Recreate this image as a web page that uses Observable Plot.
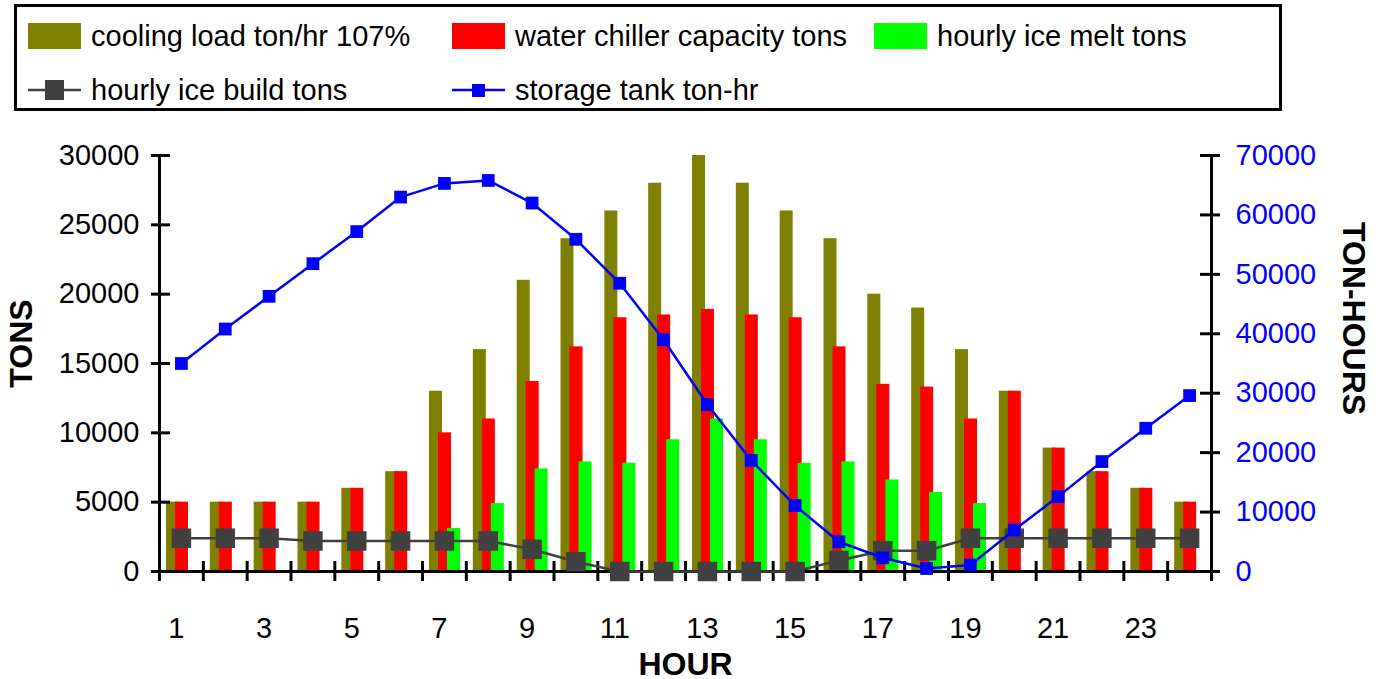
<!DOCTYPE html>
<html>
<head>
<meta charset="utf-8">
<script src="https://cdn.jsdelivr.net/npm/d3@7"></script>
<script src="https://cdn.jsdelivr.net/npm/@observablehq/plot@0.6"></script>
<style>
  body { margin: 0; background: #fff; font-family: "Liberation Sans", Arial, sans-serif; }
  #legend { position: relative; width: 1383px; height: 120px; }
  #legend .box { position: absolute; left: 14px; top: 4px; width: 1268px; height: 107px; box-sizing: border-box; border: 3px solid #000; }
  #legend .lbl { position: absolute; font-size: 29px; line-height: 30px; white-space: nowrap; color: #000; }
  #chart { position: absolute; left: 0; top: 120px; }
</style>
</head>
<body>
<div id="legend"><div class="box"></div></div>
<div id="chart"></div>
<script>
// ---- data ----
const hours = [1,2,3,4,5,6,7,8,9,10,11,12,13,14,15,16,17,18,19,20,21,22,23,24];
const coolingLoad = [5000,5000,5000,5000,6000,7200,13000,16000,21000,24000,26000,28000,30000,28000,26000,24000,20000,19000,16000,13000,8900,7200,6000,5000];
const chillerCapacity = [5000,5000,5000,5000,6000,7200,10000,11000,13700,16200,18300,18500,18900,18500,18300,16200,13500,13300,11000,13000,8900,7200,6000,5000];
const iceMelt = [0,0,0,0,0,0,3100,4900,7400,7900,7800,9500,11000,9500,7800,7900,6600,5700,4900,0,0,0,0,0];
const iceBuild = [2400,2400,2400,2200,2200,2200,2200,2200,1600,700,0,0,0,0,0,800,1500,1500,2400,2400,2400,2400,2400,2400];
const storageTank = [35000,40800,46300,51800,57200,63000,65300,65800,62000,55900,48500,39000,28100,18700,11100,5000,2300,500,1100,7000,12600,18500,24100,29600];

const seriesNames = ["cooling load ton/hr 107%", "water chiller capacity tons", "hourly ice melt tons", "hourly ice build tons", "storage tank ton-hr"];
const seriesColors = ["#808000", "#ff0000", "#00ff00", "#404040", "#0000ff"];
const leftTicks = [0,5000,10000,15000,20000,25000,30000];
const rightTicks = [0,10000,20000,30000,40000,50000,60000,70000];
const xTickLabels = [1,3,5,7,9,11,13,15,17,19,21,23];
const leftMax = 30000, rightMax = 70000;

const rows = hours.map((h, i) => ({
  hour: h, cooling: coolingLoad[i], chiller: chillerCapacity[i], melt: iceMelt[i],
  build: iceBuild[i], storage: storageTank[i]
}));
const toLeft = v => v * leftMax / rightMax;

// ---- legend ----
const legend = document.getElementById("legend");
const legendPos = [[28,36],[452,36],[874,36],[28,90],[452,90]];
seriesNames.forEach((name, i) => {
  const [x, y] = legendPos[i];
  const sw = document.createElementNS("http://www.w3.org/2000/svg", "svg");
  sw.setAttribute("width", 54); sw.setAttribute("height", 28);
  sw.style.position = "absolute"; sw.style.left = x + "px"; sw.style.top = (y - 14) + "px";
  if (i < 3) {
    sw.innerHTML = `<rect x="0" y="1" width="53" height="26" fill="${seriesColors[i]}"/>`;
  } else if (i === 3) {
    sw.innerHTML = `<line x1="0" x2="53" y1="14" y2="14" stroke="${seriesColors[i]}" stroke-width="2.5"/><rect x="17" y="4" width="19" height="20" fill="${seriesColors[i]}"/>`;
  } else {
    sw.innerHTML = `<line x1="0" x2="53" y1="14" y2="14" stroke="${seriesColors[i]}" stroke-width="2.5"/><rect x="20" y="8" width="13" height="13" fill="${seriesColors[i]}"/>`;
  }
  legend.appendChild(sw);
  const t = document.createElement("div");
  t.className = "lbl"; t.textContent = name;
  t.style.left = (x + 63) + "px"; t.style.top = (y - 15) + "px";
  legend.appendChild(t);
});

// ---- chart ----
const W = 1383, H = 559, mL = 159, mR = 172, mT = 35, mB = 108;
const plotW = W - mL - mR;
const bw = plotW / hours.length;

const chart = Plot.plot({
  width: W, height: H, marginLeft: mL, marginRight: mR, marginTop: mT, marginBottom: mB,
  style: { fontFamily: "'Liberation Sans', Arial, sans-serif", fontSize: "29px", color: "#000", background: "#fff", overflow: "visible" },
  x: { type: "band", domain: hours, padding: 0, round: false, axis: null },
  y: { domain: [0, leftMax], axis: null },
  marks: [
    Plot.barY(rows, { x: "hour", y: "cooling", fill: seriesColors[0], insetLeft: 7, insetRight: bw - 20 }),
    Plot.barY(rows, { x: "hour", y: "chiller", fill: seriesColors[1], insetLeft: 16, insetRight: bw - 29 }),
    Plot.barY(rows, { x: "hour", y: "melt", fill: seriesColors[2], insetLeft: 25, insetRight: bw - 38 }),
    // axes lines & ticks
    Plot.ruleY([0], { stroke: "#000", strokeWidth: 3 }),
    Plot.tickX(hours.slice(1), { x: d => d, dx: -bw / 2, stroke: "#000", strokeWidth: 3, insetTop: 416 - 10, insetBottom: -10 }),
    Plot.tickX([hours[0]], { x: d => d, dx: -bw / 2, stroke: "#000", strokeWidth: 3, insetBottom: -10 }),
    Plot.tickX([hours[hours.length - 1]], { x: d => d, dx: bw / 2, stroke: "#000", strokeWidth: 3, insetBottom: -10 }),
    Plot.tickY(leftTicks, { y: d => d, stroke: "#000", strokeWidth: 3, insetLeft: -8, insetRight: plotW - 11 }),
    Plot.tickY(rightTicks, { y: d => toLeft(d), stroke: "#000", strokeWidth: 3, insetLeft: plotW - 11, insetRight: -9 }),
    Plot.axisY(leftTicks, { anchor: "left", tickSize: 0, tickPadding: 20, label: null, fontSize: 29, tickFormat: d => String(d) }),
    Plot.axisY(rightTicks.map(toLeft), { anchor: "right", tickSize: 0, tickPadding: 24, label: null, fontSize: 29, fill: "#0000ff", tickFormat: d => String(Math.round(d * rightMax / leftMax)) }),
    Plot.axisX(xTickLabels, { anchor: "bottom", tickSize: 0, tickPadding: 46, label: null, fontSize: 29, dx: -5 }),
    // lines
    Plot.line(rows, { x: "hour", y: "build", stroke: seriesColors[3], strokeWidth: 2.5 }),
    Plot.dot(rows, { x: "hour", y: "build", symbol: "square", r: 11, fill: seriesColors[3], stroke: null }),
    Plot.line(rows, { x: "hour", y: d => toLeft(d.storage), stroke: seriesColors[4], strokeWidth: 2.5 }),
    Plot.dot(rows, { x: "hour", y: d => toLeft(d.storage), symbol: "square", r: 7.2, fill: seriesColors[4], stroke: null }),
    // axis titles
    Plot.text(["TONS"], { frameAnchor: "left", textAnchor: "middle", lineAnchor: "middle", dx: -138, dy: -20, rotate: -90, fontSize: 32, fontWeight: "bold", fill: "#000" }),
    Plot.text(["TON-HOURS"], { frameAnchor: "right", textAnchor: "middle", lineAnchor: "middle", dx: 142, dy: -45, rotate: 90, fontSize: 32, fontWeight: "bold", fill: "#000" }),
    Plot.text(["HOUR"], { frameAnchor: "bottom", textAnchor: "middle", lineAnchor: "middle", dy: 93, fontSize: 32, fontWeight: "bold", fill: "#000" })
  ]
});
document.getElementById("chart").appendChild(chart);
</script>
</body>
</html>
